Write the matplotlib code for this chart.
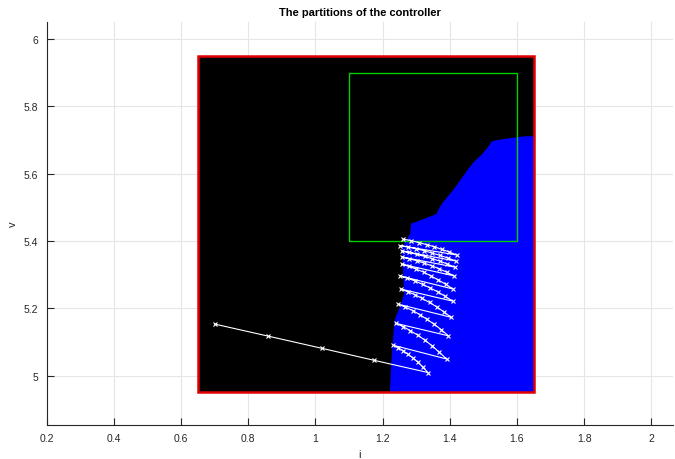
import matplotlib
matplotlib.use("Agg")
import matplotlib.pyplot as plt
from matplotlib.patches import Rectangle

plt.rcParams['font.family'] = ['Liberation Sans', 'DejaVu Sans']

# ---- data ----
title = "The partitions of the controller"
x_label = "i"
y_label = "v"
x_ticks = [0.2, 0.4, 0.6, 0.8, 1.0, 1.2, 1.4, 1.6, 1.8, 2.0]
x_tick_labels = ["0.2", "0.4", "0.6", "0.8", "1", "1.2", "1.4", "1.6", "1.8", "2"]
y_ticks = [5.0, 5.2, 5.4, 5.6, 5.8, 6.0]
y_tick_labels = ["5", "5.2", "5.4", "5.6", "5.8", "6"]

# outer partition (black) and target set (green)
outer_i = [0.65, 1.65]
outer_v = [4.95, 5.95]
target_i = [1.10, 1.60]
target_v = [5.40, 5.90]

# boundary of the blue partition (left / upper edge, bottom to top)
blue_edge_i = [1.222, 1.225, 1.231, 1.237, 1.255, 1.264, 1.258, 1.270, 1.282,
               1.285, 1.302, 1.327, 1.361, 1.366, 1.376, 1.396, 1.416, 1.436,
               1.455, 1.475, 1.495, 1.515, 1.525, 1.550, 1.585, 1.624, 1.651]
blue_edge_v = [4.950, 5.019, 5.108, 5.168, 5.212, 5.242, 5.376, 5.403, 5.420,
               5.452, 5.457, 5.467, 5.480, 5.492, 5.510, 5.534, 5.559, 5.587,
               5.614, 5.638, 5.656, 5.680, 5.696, 5.701, 5.706, 5.711, 5.711]

# closed-loop trajectory (time order)
traj_i = [0.700, 0.860, 1.019, 1.176, 1.335,
          1.320, 1.306, 1.291, 1.276, 1.261, 1.247, 1.232,
          1.391, 1.369, 1.348, 1.326, 1.305, 1.283, 1.262, 1.240,
          1.396, 1.375, 1.353, 1.332, 1.311, 1.290, 1.268, 1.247,
          1.404, 1.383, 1.361, 1.340, 1.318, 1.297, 1.275, 1.254,
          1.409, 1.387, 1.364, 1.342, 1.319, 1.297, 1.274, 1.252,
          1.410, 1.388, 1.366, 1.344, 1.323, 1.301, 1.279, 1.257,
          1.413, 1.391, 1.369, 1.347, 1.324, 1.302, 1.280, 1.258,
          1.416, 1.393, 1.371, 1.348, 1.325, 1.302, 1.280, 1.257,
          1.419, 1.395, 1.371, 1.347, 1.324, 1.300, 1.276, 1.252,
          1.422, 1.399, 1.376, 1.353, 1.331, 1.308, 1.285, 1.262]
traj_v = [5.153, 5.117, 5.081, 5.045, 5.009,
          5.025, 5.039, 5.052, 5.063, 5.074, 5.082, 5.090,
          5.049, 5.069, 5.088, 5.105, 5.120, 5.133, 5.145, 5.155,
          5.118, 5.136, 5.153, 5.167, 5.181, 5.193, 5.203, 5.212,
          5.173, 5.189, 5.204, 5.217, 5.229, 5.240, 5.249, 5.257,
          5.221, 5.235, 5.249, 5.260, 5.271, 5.281, 5.289, 5.296,
          5.257, 5.271, 5.284, 5.296, 5.307, 5.316, 5.324, 5.331,
          5.296, 5.307, 5.317, 5.326, 5.334, 5.341, 5.347, 5.352,
          5.322, 5.331, 5.340, 5.347, 5.354, 5.360, 5.366, 5.370,
          5.340, 5.349, 5.357, 5.364, 5.371, 5.377, 5.382, 5.386,
          5.358, 5.367, 5.375, 5.383, 5.389, 5.395, 5.401, 5.405]

# ---- figure ----
fig = plt.figure(figsize=(6.75, 4.60), dpi=100)
ax = fig.add_axes([0.0689, 0.0739, 0.9282, 0.8768])

ax.add_patch(Rectangle((outer_i[0], outer_v[0]), outer_i[1] - outer_i[0],
                       outer_v[1] - outer_v[0], facecolor='black',
                       edgecolor='none', zorder=2))
poly_i = blue_edge_i + [outer_i[1], outer_i[1]]
poly_v = blue_edge_v + [outer_v[0], outer_v[0]]
ax.fill(poly_i, poly_v, color='#0000ff', lw=0, zorder=3)
ax.add_patch(Rectangle((outer_i[0], outer_v[0]), outer_i[1] - outer_i[0],
                       outer_v[1] - outer_v[0], facecolor='none',
                       edgecolor='#e00000', lw=1.8, zorder=4))
ax.add_patch(Rectangle((target_i[0], target_v[0]), target_i[1] - target_i[0],
                       target_v[1] - target_v[0], facecolor='none',
                       edgecolor='#00d000', lw=1.0, zorder=5))
ax.plot(traj_i, traj_v, color='white', lw=0.8, marker='x', ms=3.5,
        mew=0.8, zorder=6)

ax.set_xlim(0.2, 2.0646)
ax.set_ylim(4.853, 6.0514)
ax.set_xticks(x_ticks)
ax.set_xticklabels(x_tick_labels)
ax.set_yticks(y_ticks)
ax.set_yticklabels(y_tick_labels)
ax.grid(True, color='#e6e6e6', lw=0.8, zorder=0)
ax.set_axisbelow(True)
for s in ['top', 'right']:
    ax.spines[s].set_visible(False)
for s in ['left', 'bottom']:
    ax.spines[s].set_color('#262626')
    ax.spines[s].set_linewidth(0.8)
ax.tick_params(direction='in', length=5, width=0.8, colors='#262626',
               labelsize=7.5, labelcolor='#262626', pad=6)
ax.set_title(title, fontsize=8, fontweight='bold', color='black', pad=5)
ax.set_xlabel(x_label, fontsize=8, color='#262626', labelpad=4)
ax.set_ylabel(y_label, fontsize=8, color='#262626', labelpad=4)

fig.savefig("out.png", dpi=100)
